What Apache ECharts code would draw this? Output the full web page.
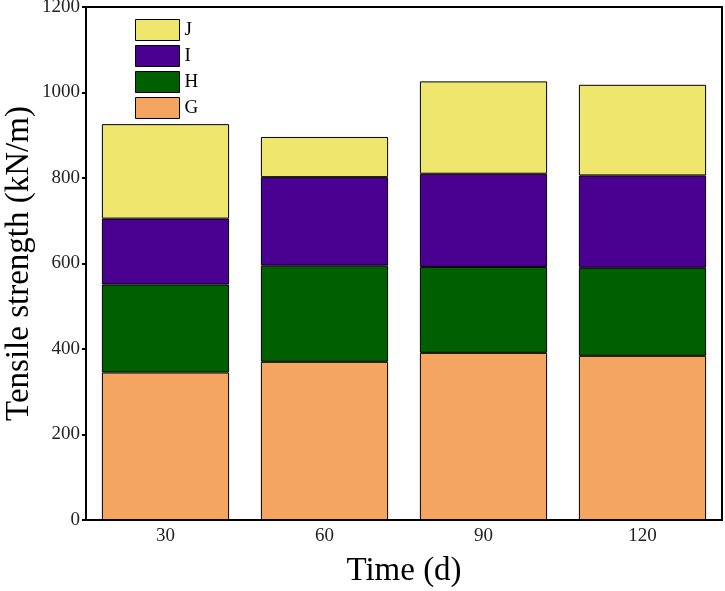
<!DOCTYPE html>
<html>
<head>
<meta charset="utf-8">
<script src="https://cdn.jsdelivr.net/npm/echarts@6/dist/echarts.min.js"></script>
<style>
  html, body { margin: 0; padding: 0; background: #fff; }
  #chart { width: 725px; height: 591px; }
</style>
</head>
<body>
<div id="chart"></div>
<script>
// 数据
var days = ['30', '60', '90', '120'];
var G = [345, 370, 391, 384];
var H = [206, 225, 201, 206];
var I = [154, 207, 218, 216];
var J = [221, 94, 216, 212];
var yTicks = [0, 200, 400, 600, 800, 1000, 1200];

var font = '"Liberation Serif", "DejaVu Serif", serif';
var colors = { G: '#F4A661', H: '#005F00', I: '#4A0090', J: '#EFE66E' };

var chart = echarts.init(document.getElementById('chart'));

function bar(name, data) {
    return {
        name: name,
        type: 'bar',
        stack: 'total',
        data: data,
        barWidth: '80%',
        itemStyle: {
            color: colors[name],
            borderColor: '#000',
            borderWidth: 1
        }
    };
}

chart.setOption({
    animation: false,
    textStyle: { fontFamily: font },
    grid: {
        left: 86, right: 3, top: 7, bottom: 71,
        outerBoundsMode: 'none',
        containLabel: false,
        show: true,
        borderColor: '#000',
        borderWidth: 2
    },
    legend: {
        orient: 'vertical',
        left: 130,
        top: 14,
        icon: 'rect',
        itemWidth: 44,
        itemHeight: 21,
        itemGap: 4,
        data: ['J', 'I', 'H', 'G'],
        textStyle: { fontFamily: font, fontSize: 19, color: '#000' },
        itemStyle: { borderColor: '#000', borderWidth: 1 }
    },
    xAxis: {
        type: 'category',
        data: days,
        name: 'Time (d)',
        nameLocation: 'middle',
        nameGap: 35,
        nameMoveOverlap: false,
        nameTextStyle: { fontFamily: font, fontSize: 33, color: '#000' },
        axisLine: { lineStyle: { color: '#000', width: 2 } },
        axisTick: { show: true, alignWithLabel: true, inside: true, length: 3, lineStyle: { color: '#000', width: 2 } },
        axisLabel: { fontFamily: font, fontSize: 19, color: '#222', margin: 7 },
        splitLine: { show: false }
    },
    yAxis: {
        type: 'value',
        min: yTicks[0],
        max: yTicks[yTicks.length - 1],
        interval: 200,
        name: 'Tensile strength (kN/m)',
        nameLocation: 'middle',
        nameGap: 50,
        nameMoveOverlap: false,
        nameTextStyle: { fontFamily: font, fontSize: 33, color: '#000' },
        axisLine: { show: true, lineStyle: { color: '#000', width: 2 } },
        axisTick: { show: true, length: 4, lineStyle: { color: '#000', width: 2 } },
        axisLabel: {
            fontFamily: font, fontSize: 19, color: '#222', margin: 6,
            formatter: function (v) { return String(v); }
        },
        splitLine: { show: false }
    },
    series: [bar('G', G), bar('H', H), bar('I', I), bar('J', J)]
});
</script>
</body>
</html>
